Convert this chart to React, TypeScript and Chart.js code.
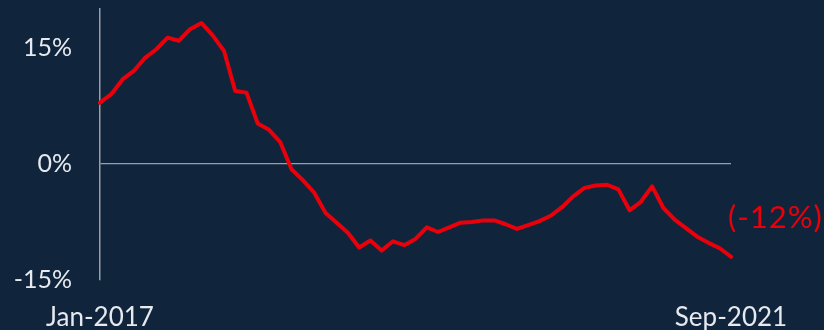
import React, { useEffect, useRef } from "react";
import { Chart, registerables } from "chart.js";

Chart.register(...registerables);

const months = ["Jan","Feb","Mar","Apr","May","Jun","Jul","Aug","Sep","Oct","Nov","Dec"];
const categories: string[] = [];
for (let y = 2017; y <= 2021; y++) {
  for (let m = 0; m < 12; m++) {
    if (y === 2021 && m > 8) break;
    categories.push(`${months[m]}-${y}`);
  }
}

const values = [
  7.9, 9.0, 10.9, 12.0, 13.7, 14.8, 16.3, 15.9, 17.4, 18.2,
  16.6, 14.6, 9.4, 9.2, 5.2, 4.4, 2.8, -0.7, -2.1, -3.7,
  -6.3, -7.6, -8.9, -10.8, -9.9, -11.2, -10.0, -10.5, -9.7, -8.2,
  -8.8, -8.2, -7.6, -7.5, -7.3, -7.3, -7.8, -8.4, -7.9, -7.4,
  -6.7, -5.6, -4.2, -3.1, -2.8, -2.7, -3.3, -6.0, -4.9, -2.9,
  -5.7, -7.2, -8.3, -9.4, -10.2, -10.9, -12.0,
];

const yTicks = [-15, 0, 15];
const shownLabels = ["Jan-2017", "Sep-2021"];
const endLabel = "(-12%)";

const BG = "#10243c";
const RED = "#e8000b";
const TXT = "#e6e9ee";
const AXIS = "#9a9ea6";

export default function App() {
  const ref = useRef<HTMLCanvasElement | null>(null);
  useEffect(() => {
    if (!ref.current) return;
    const endLabelPlugin = {
      id: "endLabel",
      afterDatasetsDraw(chart: any) {
        const meta = chart.getDatasetMeta(0);
        const pt = meta.data[meta.data.length - 1];
        if (!pt) return;
        const ctx = chart.ctx;
        ctx.save();
        ctx.fillStyle = RED;
        ctx.font = "400 31px Lato";
        (ctx as any).letterSpacing = "1px";
        ctx.textBaseline = "middle";
        ctx.textAlign = "left";
        ctx.fillText(endLabel, pt.x - 3, pt.y - 39);
        (ctx as any).letterSpacing = "0px";
        ctx.restore();
      },
    };
    const chart = new Chart(ref.current, {
      type: "line",
      data: {
        labels: categories,
        datasets: [
          {
            data: values,
            borderColor: RED,
            borderWidth: 4,
            pointRadius: 0,
            tension: 0,
            fill: false,
            borderJoinStyle: "round",
            borderCapStyle: "round",
          },
        ],
      },
      options: {
        animation: false,
        responsive: false,
        maintainAspectRatio: false,
        layout: { padding: { left: 0, right: 93, top: 9, bottom: 0 } },
        plugins: { legend: { display: false }, tooltip: { enabled: false } },
        scales: {
          x: {
            type: "category",
            offset: false,
            grid: { display: false, drawTicks: false },
            border: { display: false },
            afterFit(scale: any) {
              scale.height = 50;
              scale.paddingLeft = 0;
              scale.paddingRight = 0;
            },
            ticks: {
              autoSkip: false,
              maxRotation: 0,
              minRotation: 0,
              padding: 22,
              color: TXT,
              font: { family: "Lato", size: 26 },
              callback(_v: any, i: number) {
                const l = categories[i];
                return shownLabels.includes(l) ? l : "";
              },
            },
          },
          y: {
            min: -15,
            max: 20,
            afterBuildTicks(scale: any) {
              scale.ticks = yTicks.map((v) => ({ value: v }));
            },
            afterFit(scale: any) {
              scale.width = 100;
              scale.paddingTop = 0;
              scale.paddingBottom = 0;
            },
            grid: {
              drawTicks: false,
              color: (c: any) => (c.tick && c.tick.value === 0 ? AXIS : "rgba(0,0,0,0)"),
              lineWidth: 1.2,
            },
            border: { display: true, color: AXIS, width: 1.5 },
            ticks: {
              padding: 28,
              color: TXT,
              font: { family: "Lato", size: 25 },
              callback(v: any) {
                return `${v}%`;
              },
            },
          },
        },
      },
      plugins: [endLabelPlugin],
    });
    return () => chart.destroy();
  }, []);
  return (
    <div style={{ position: "fixed", left: 0, top: 0, width: 824, height: 330, background: BG }}>
      <canvas ref={ref} width={824} height={330} style={{ display: "block" }} />
    </div>
  );
}
